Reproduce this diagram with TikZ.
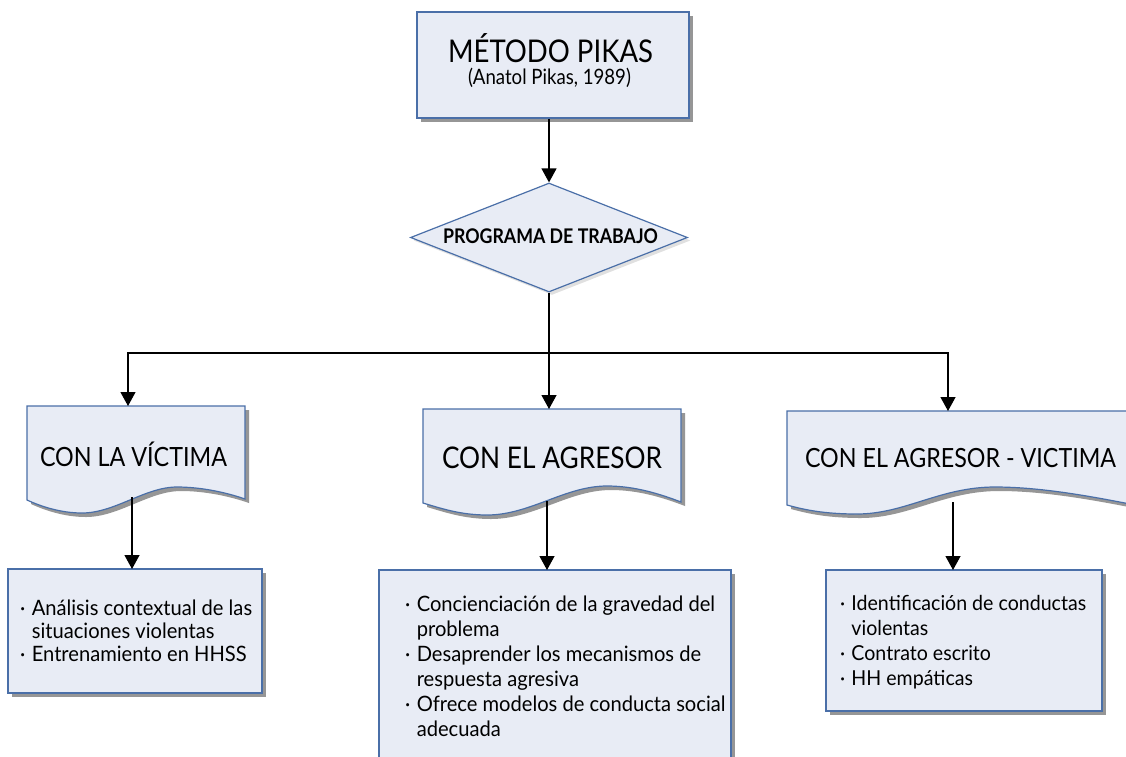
\documentclass[tikz,border=0pt]{standalone}
\usepackage{fontspec}
\setmainfont{Lato}[FakeStretch=0.88]
\newfontfamily\bodyfont{Lato}[FakeStretch=0.95]
\usetikzlibrary{shapes.geometric,arrows.meta,shadows}
\definecolor{fillc}{HTML}{E8ECF5}
\definecolor{bordc}{HTML}{4A6FA8}
\newlength\fitlen
\newcommand\fitto[3]{\settowidth\fitlen{\fontsize{10pt}{12pt}\selectfont #2}\pgfmathsetmacro\fitsz{10*#1/\fitlen}\fontsize{\fitsz pt}{#3pt}\selectfont}
\tikzset{
  shp/.style={draw=bordc, line width=1.2pt, fill=fillc},
  shd/.style={drop shadow={shadow xshift=4pt, shadow yshift=-4pt, opacity=0.55, fill=black!75}},
  lbl/.style={inner sep=0pt, text=black},
  arr/.style={line width=1.2pt, -{Triangle[width=15pt,length=14pt]}},
  ln/.style={line width=1.2pt},
}
\begin{document}
\begin{tikzpicture}[x=1pt,y=-1pt]
\useasboundingbox (0,0) rectangle (1126,756);
\clip (0,0) rectangle (1126,756);
\fill[white] (0,0) rectangle (1126,756);
% top box
\node[shp, shd, rectangle, minimum width=272pt, minimum height=106pt, inner sep=0pt] (top) at (553,65) {};
\node[lbl, anchor=base] (tt1) at (550.5,62.3) {\fitto{205}{MÉTODO PIKAS}{30}MÉTODO PIKAS};
\node[lbl, anchor=base] (tt2) at (549.5,84.3) {\fitto{163}{(Anatol Pikas, 1989)}{20}(Anatol Pikas, 1989)};
% diamond
\node[shp, diamond, shape aspect=2.54, minimum width=277pt, minimum height=109pt, inner sep=0pt,
  drop shadow={shadow xshift=3pt, shadow yshift=-3pt, opacity=0.12, fill=black}] (diam) at (549,237.5) {};
\node[lbl, anchor=base, font=\bfseries] (dt) at (550.5,243.3) {\fitto{215}{PROGRAMA DE TRABAJO}{20}PROGRAMA DE TRABAJO};
% document shapes
\path[shp, shd] (27,406) -- (245,406) -- (245,499) .. controls (225,492) and (200,487) .. (177,487)
  .. controls (145,487) and (115,513) .. (82,513) .. controls (60,513) and (40,506) .. (27,500) -- cycle;
\path[shp, shd] (423,409) -- (681,409) -- (681,502) .. controls (660,494) and (635,486) .. (607,486)
  .. controls (565,486) and (530,515) .. (487,515) .. controls (460,515) and (440,508) .. (423,503) -- cycle;
\path[shp, shd] (787,411) -- (1140,411) -- (1140,506) .. controls (1090,496) and (1040,487) .. (995,487)
  .. controls (940,487) and (905,514) .. (857,514) .. controls (825,514) and (805,510) .. (787,505) -- cycle;
\node[lbl, anchor=base] (doc1) at (133.5,466.7) {\fitto{187}{CON LA VÍCTIMA}{20}CON LA VÍCTIMA};
\node[lbl, anchor=base] (doc2) at (552,468) {\fitto{220}{CON EL AGRESOR}{20}CON EL AGRESOR};
\node[lbl, anchor=base] (doc3) at (960.5,467) {\fitto{311}{CON EL AGRESOR - VICTIMA}{20}CON EL AGRESOR - VICTIMA};
\coordinate (d1t) at (128,406);
\coordinate (d2t) at (549,409);
\coordinate (d3t) at (948,411);
\coordinate (d1b) at (132,497);
\coordinate (d2b) at (547,501);
\coordinate (d3b) at (953,502);
% bottom boxes
\path[shp, shd] (8,569) rectangle (262,693);
\path[shp, shd] (379,570) rectangle (731,780);
\path[shp, shd] (826,570) rectangle (1102,711);
\coordinate (b1) at (135,569);
\coordinate (b2) at (555,570);
\coordinate (b3) at (964,570);
\node[lbl, anchor=base west, font=\bodyfont] (t1) at (20,615) {\fitto{232}{·\hspace{.3em}Análisis contextual de las}{23}%
\begin{tabular}[t]{@{}l@{\hspace{.3em}}l@{}}·&Análisis contextual de las\\&situaciones violentas\\·&Entrenamiento en HHSS\end{tabular}};
\node[lbl, anchor=base west, font=\bodyfont] (t2) at (405,611.7) {\fitto{310}{·\hspace{.3em}Concienciación de la gravedad del}{25}%
\begin{tabular}[t]{@{}l@{\hspace{.3em}}l@{}}·&Concienciación de la gravedad del\\&problema\\·&Desaprender los mecanismos de\\&respuesta agresiva\\·&Ofrece modelos de conducta social\\&adecuada\end{tabular}};
\node[lbl, anchor=base west, font=\bodyfont] (t3) at (840,610) {\fitto{246}{·\hspace{.3em}Identificación de conductas}{25}%
\begin{tabular}[t]{@{}l@{\hspace{.3em}}l@{}}·&Identificación de conductas\\&violentas\\·&Contrato escrito\\·&HH empáticas\end{tabular}};
% connectors
\coordinate (j) at (549,353);
\draw[arr] (top.south -| diam.north) -- (diam.north);
\draw[ln] (diam.south) -- (j);
\draw[arr] (j) -| (d1t);
\draw[arr] (j) -| (d3t);
\draw[arr] (j) -- (d2t);
\draw[arr] (d1b) -- (d1b |- b1);
\draw[arr] (d2b) -- (d2b |- b2);
\draw[arr] (d3b) -- (d3b |- b3);
\end{tikzpicture}
\end{document}
